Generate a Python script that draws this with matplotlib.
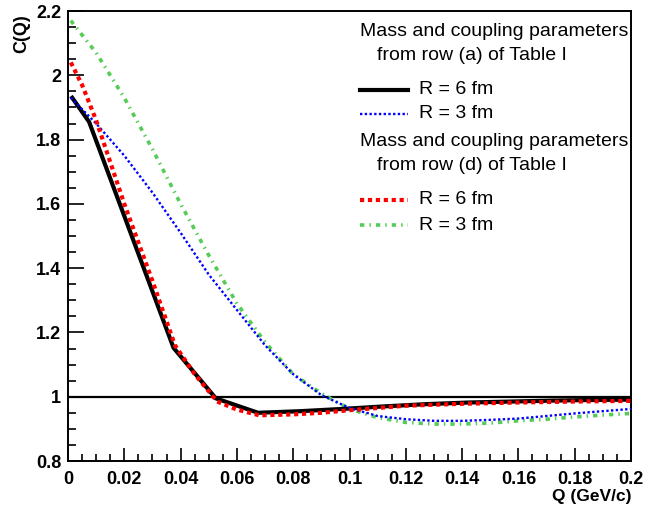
import matplotlib
matplotlib.use("Agg")
import matplotlib.pyplot as plt
from matplotlib.ticker import MultipleLocator, FixedFormatter, FixedLocator
from matplotlib.lines import Line2D

# Data
q_black = [0.0015, 0.0075, 0.0375, 0.0525, 0.0675, 0.0825, 0.0975, 0.1125, 0.1275, 0.1425, 0.1575, 0.1725, 0.1875, 0.2]
c_black = [1.93, 1.855, 1.152, 0.995, 0.950, 0.955, 0.962, 0.970, 0.977, 0.982, 0.985, 0.988, 0.990, 0.991]

q_red = [0.001, 0.005, 0.010, 0.020, 0.030, 0.038, 0.045, 0.053, 0.060, 0.068, 0.080, 0.090, 0.100, 0.120, 0.140, 0.160, 0.180, 0.200]
c_red = [2.04, 1.97, 1.86, 1.60, 1.36, 1.16, 1.07, 0.985, 0.960, 0.942, 0.945, 0.950, 0.958, 0.972, 0.978, 0.982, 0.985, 0.987]

q_smooth = [0.001, 0.010, 0.020, 0.030, 0.040, 0.050, 0.060, 0.070, 0.080, 0.090, 0.100, 0.110, 0.120, 0.130, 0.140, 0.150, 0.160, 0.170, 0.180, 0.190, 0.200]
c_blue = [1.93, 1.85, 1.75, 1.635, 1.51, 1.38, 1.27, 1.16, 1.07, 1.005, 0.965, 0.940, 0.930, 0.925, 0.925, 0.928, 0.932, 0.940, 0.948, 0.955, 0.962]
c_green = [2.17, 2.07, 1.93, 1.77, 1.60, 1.44, 1.29, 1.17, 1.07, 1.01, 0.962, 0.935, 0.920, 0.915, 0.915, 0.918, 0.925, 0.930, 0.937, 0.943, 0.948]

xticks = [0, 0.02, 0.04, 0.06, 0.08, 0.1, 0.12, 0.14, 0.16, 0.18, 0.2]
xticklabels = ["0", "0.02", "0.04", "0.06", "0.08", "0.1", "0.12", "0.14", "0.16", "0.18", "0.2"]
yticks = [0.8, 1.0, 1.2, 1.4, 1.6, 1.8, 2.0, 2.2]
yticklabels = ["0.8", "1", "1.2", "1.4", "1.6", "1.8", "2", "2.2"]

plt.rcParams['font.family'] = ['Liberation Sans', 'DejaVu Sans']

fig = plt.figure(figsize=(6.54, 5.08), dpi=100)
ax = fig.add_axes([68/654, 47/508, 563/654, 450/508])

GREEN = '#55cc55'
ls_black = '-'
ls_blue = (0, (1, 1))
ls_red = (0, (1, 0.9))
ls_green = (0, (1.2, 1.4, 0.4, 1.4))

ax.axhline(1.0, color='black', lw=1.6, zorder=1)
ax.plot(q_black, c_black, color='black', lw=3.0, ls=ls_black, zorder=3)
ax.plot(q_smooth, c_blue, color='#0000ff', lw=1.7, ls=ls_blue, zorder=4)
ax.plot(q_red, c_red, color='#ff0000', lw=3.0, ls=ls_red, zorder=5)
ax.plot(q_smooth, c_green, color=GREEN, lw=2.6, ls=ls_green, zorder=2)

ax.set_xlim(0, 0.2)
ax.set_ylim(0.8, 2.2)
ax.xaxis.set_major_locator(FixedLocator(xticks))
ax.xaxis.set_major_formatter(FixedFormatter(xticklabels))
ax.yaxis.set_major_locator(FixedLocator(yticks))
ax.yaxis.set_major_formatter(FixedFormatter(yticklabels))
ax.xaxis.set_minor_locator(MultipleLocator(0.005))
ax.yaxis.set_minor_locator(MultipleLocator(0.05))
ax.tick_params(which='both', direction='in', top=False, right=False, width=1.2, labelsize=13)
ax.tick_params(axis='x', which='major', length=9.5, pad=7)
ax.tick_params(axis='x', which='minor', length=4.7)
ax.tick_params(axis='y', which='major', length=11.5, pad=5)
ax.tick_params(axis='y', which='minor', length=5.6)
for lab in ax.get_xticklabels() + ax.get_yticklabels():
    lab.set_fontweight('bold')
for s in ax.spines.values():
    s.set_linewidth(1.4)

fig.text(631/654, 1 - 497/508, "Q (GeV/c)", ha='right', va='center', fontsize=12.5, fontweight='bold')
fig.text(22/654, 1 - 34/508, "C(Q)", ha='center', va='center', fontsize=13, fontweight='bold', rotation=90)

# Legend (manual, ROOT style)
def fy(y):
    return 1 - y / 508
def fx(x):
    return x / 654

fs = 14
fig.text(fx(628), fy(32), "Mass and coupling parameters", ha='right', va='center', fontsize=fs)
fig.text(fx(377), fy(55), "from row (a) of Table I", ha='left', va='center', fontsize=fs)
fig.text(fx(628), fy(141), "Mass and coupling parameters", ha='right', va='center', fontsize=fs)
fig.text(fx(377), fy(166), "from row (d) of Table I", ha='left', va='center', fontsize=fs)

entries = [
    (90, 'black', 3.0, ls_black, "R = 6 fm"),
    (114, '#0000ff', 1.7, ls_blue, "R = 3 fm"),
    (200, '#ff0000', 3.0, ls_red, "R = 6 fm"),
    (225, GREEN, 2.6, ls_green, "R = 3 fm"),
]
for y, c, lw, ls, lab in entries:
    fig.add_artist(Line2D([fx(360), fx(408)], [fy(y), fy(y)], color=c, lw=lw, ls=ls, transform=fig.transFigure))
    fig.text(fx(419), fy(y), lab, ha='left', va='center', fontsize=fs)

fig.savefig("out.png", dpi=100)
